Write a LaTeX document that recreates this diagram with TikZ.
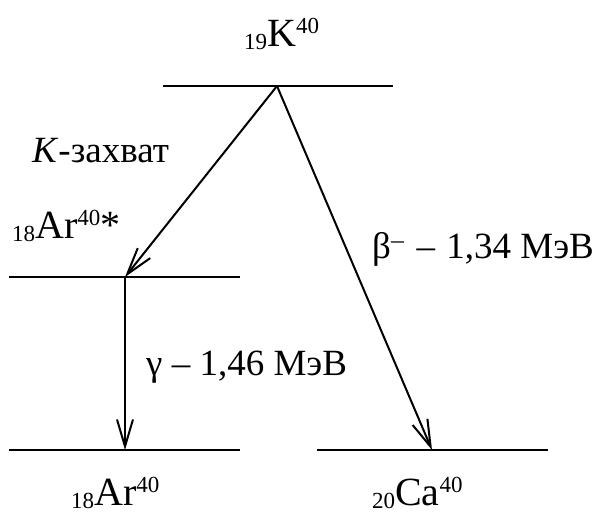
\documentclass[tikz,border=0pt]{standalone}
\usepackage{fontspec}
\setmainfont{Liberation Serif}
\usetikzlibrary{arrows.meta}
\newcommand\nuc[4]{\raisebox{-3.5pt}{\fontsize{23}{23}\selectfont #1}#2\raisebox{13pt}{\fontsize{23}{23}\selectfont #3}#4}
\tikzset{
  lvl/.style={line width=2pt},
  trans/.style={line width=2pt,-{Straight Barb[length=27pt,width=16pt,line width=2pt]}},
  nuclabel/.style={anchor=base west,inner sep=0pt,font=\fontsize{40}{40}\selectfont},
  txtlabel/.style={anchor=base west,inner sep=0pt,font=\fontsize{37}{37}\selectfont}
}
\begin{document}
\begin{tikzpicture}[x=1pt,y=-1pt]
\useasboundingbox (0,0) rectangle (601,514);
% levels
\coordinate (k1) at (163,86);  \coordinate (k2) at (393,86);
\coordinate (a1) at (9,277);   \coordinate (a2) at (240,277);
\coordinate (g1) at (9,450);   \coordinate (g2) at (240,450);
\coordinate (c1) at (317,450); \coordinate (c2) at (548,450);
\coordinate (ktop) at (277,86);
\coordinate (astar) at (125,277);
\coordinate (aground) at (125,450);
\coordinate (cground) at (432,450);
\draw[lvl] (k1) -- (k2);
\draw[lvl] (a1) -- (a2);
\draw[lvl] (g1) -- (g2);
\draw[lvl] (c1) -- (c2);
% transitions
\draw[trans] (ktop) -- (astar);
\draw[trans] (ktop) -- (cground);
\draw[trans] (astar) -- (aground);
% labels
\node[nuclabel] (lk) at (244,46) {\nuc{19}{K}{40}{}};
\node[nuclabel] (las) at (12,238) {\nuc{18}{Ar}{40}{*}};
\node[nuclabel] (la) at (71,505) {\nuc{18}{Ar}{40}{}};
\node[nuclabel] (lc) at (372,505) {\nuc{20}{Ca}{40}{}};
\node[txtlabel] (lkz) at (32,162) {\textit{K}-захват};
\node[txtlabel] (lg) at (146,375) {γ – 1,46 МэВ};
\node[txtlabel] (lb) at (372,258) {β\textsuperscript{–}\hspace{3pt} – \hspace{2pt}1,34 МэВ};
\end{tikzpicture}
\end{document}
